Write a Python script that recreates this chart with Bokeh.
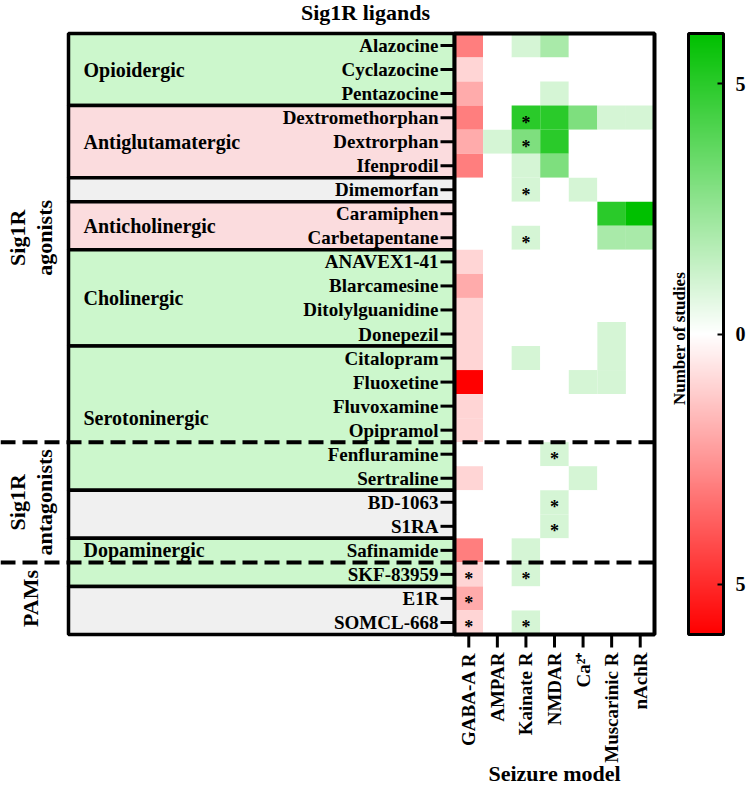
import math
from bokeh.plotting import figure
from bokeh.models import (Range1d, ColumnDataSource, LinearColorMapper, ColorBar,
                          FixedTicker, CustomJSTickFormatter)
from bokeh.core.properties import value
from bokeh.embed import file_html
from bokeh.resources import INLINE

# ---------------- data ----------------
drugs = ["Alazocine", "Cyclazocine", "Pentazocine", "Dextromethorphan", "Dextrorphan",
         "Ifenprodil", "Dimemorfan", "Caramiphen", "Carbetapentane", "ANAVEX1-41",
         "Blarcamesine", "Ditolylguanidine", "Donepezil", "Citalopram", "Fluoxetine",
         "Fluvoxamine", "Opipramol", "Fenfluramine", "Sertraline", "BD-1063", "S1RA",
         "Safinamide", "SKF-83959", "E1R", "SOMCL-668"]
models = ["GABA-A R", "AMPAR", "Kainate R", "NMDAR", "Ca²⁺", "Muscarinic R", "nAchR"]

gaba_a     = [-3, -1, -2, -3, -2, -3, 0, 0, 0, -1, -2, -1, -1, -1, -6, -1, -1, 0, -1, 0, 0, -3, -1, -2, -1]
ampar      = [0, 0, 0, 0, 1, 0, 0, 0, 0, 0, 0, 0, 0, 0, 0, 0, 0, 0, 0, 0, 0, 0, 0, 0, 0]
kainate    = [1, 0, 0, 5, 3, 1, 1, 0, 1, 0, 0, 0, 0, 1, 0, 0, 0, 0, 0, 0, 0, 1, 1, 0, 1]
nmdar      = [2, 0, 1, 5, 5, 3, 0, 0, 0, 0, 0, 0, 0, 0, 0, 0, 0, 1, 0, 1, 1, 0, 0, 0, 0]
calcium    = [0, 0, 0, 3, 0, 0, 1, 0, 0, 0, 0, 0, 0, 0, 1, 0, 0, 0, 1, 0, 0, 0, 0, 0, 0]
muscarinic = [0, 0, 0, 1, 0, 0, 0, 5, 2, 0, 0, 0, 1, 1, 1, 0, 0, 0, 0, 0, 0, 0, 0, 0, 0]
nachr      = [0, 0, 0, 1, 0, 0, 0, 6, 2, 0, 0, 0, 0, 0, 0, 0, 0, 0, 0, 0, 0, 0, 0, 0, 0]

star_drugs = ["Dextromethorphan", "Dextrorphan", "Dimemorfan", "Carbetapentane", "Fenfluramine",
              "BD-1063", "S1RA", "SKF-83959", "SKF-83959", "E1R", "SOMCL-668", "SOMCL-668"]
star_models = ["Kainate R", "Kainate R", "Kainate R", "Kainate R", "NMDAR",
               "NMDAR", "NMDAR", "GABA-A R", "Kainate R", "GABA-A R", "GABA-A R", "Kainate R"]

group_names = ["Opioidergic", "Antiglutamatergic", "", "Anticholinergic", "Cholinergic",
               "Serotoninergic", "", "Dopaminergic", ""]
group_first = ["Alazocine", "Dextromethorphan", "Dimemorfan", "Caramiphen", "ANAVEX1-41",
               "Citalopram", "BD-1063", "Safinamide", "E1R"]
group_last = ["Pentazocine", "Ifenprodil", "Dimemorfan", "Carbetapentane", "Donepezil",
              "Sertraline", "S1RA", "SKF-83959", "SOMCL-668"]
group_kind = ["green", "pink", "grey", "pink", "green", "green", "grey", "green", "grey"]
group_label_drug = [None, None, None, None, None, None, None, "Safinamide", None]

class_lines = [["Sig1R", "agonists"], ["Sig1R", "antagonists"], ["PAMs"]]
class_first = ["Alazocine", "Fenfluramine", "SKF-83959"]
class_last = ["Opipramol", "Safinamide", "SOMCL-668"]

cbar_ticks = [-5, 0, 5]
cbar_low, cbar_high = -6, 6

# ---------------- geometry (canvas pixels -> data) ----------------
W, H = 748, 789
CW = 200 / 7.0          # px per column
RH = 601 / 25.0         # px per row
HX0, HY0 = 454, 33      # heatmap top-left on canvas
HY1 = HY0 + 25 * RH     # heatmap bottom


def xd(cx):
    return (cx - HX0) / CW


def yd(cy):
    return (cy - HY0) / RH


FONT = value("Liberation Serif")
kind_colors = {"green": "#ccf7cc", "pink": "#fbdcde", "grey": "#f0f0f0"}

# palette red -> white -> green
N = 255
palette = []
for i in range(N):
    v = cbar_low + (cbar_high - cbar_low) * i / (N - 1)
    if v < 0:
        t = -v / 6.0
        r, g, b = 255, 255 * (1 - t), 255 * (1 - t)
    else:
        t = v / 6.0
        r, g, b = 255 * (1 - t), 255 - 63 * t, 255 * (1 - t)
    palette.append("#%02x%02x%02x" % (round(r), round(g), round(b)))
mapper = LinearColorMapper(palette=palette, low=cbar_low, high=cbar_high)

p = figure(width=W, height=H, x_range=Range1d(xd(0), xd(W)), y_range=Range1d(yd(H), yd(0)),
           output_backend="svg", toolbar_location=None, x_axis_location=None,
           y_axis_location=None, min_border_left=0, min_border_right=0, min_border_top=0,
           min_border_bottom=0)
p.outline_line_color = None
p.grid.visible = False

row_of = {d: i for i, d in enumerate(drugs)}
col_of = {m: j for j, m in enumerate(models)}


def txt(x, y, t, size, align="center", baseline="middle", angle=0.0, **kw):
    p.text(x=x, y=y, text=t, angle=angle, text_font=FONT, text_font_style="bold",
           text_font_size=size, text_align=align, text_baseline=baseline,
           text_color="black", **kw)


# ---------------- left panel groups ----------------
gsrc = ColumnDataSource(dict(
    left=[xd(68)] * len(group_names),
    right=[0] * len(group_names),
    top=[row_of[a] for a in group_first],
    bottom=[row_of[b] + 1 for b in group_last],
    color=[kind_colors[k] for k in group_kind]))
p.quad(left="left", right="right", top="top", bottom="bottom", fill_color="color",
       line_color="black", line_width=3.5, source=gsrc)

gl_x, gl_y, gl_t = [], [], []
for name, a, b, ld in zip(group_names, group_first, group_last, group_label_drug):
    if not name:
        continue
    gl_t.append(name)
    gl_x.append(xd(83))
    gl_y.append(row_of[ld] + 0.5 if ld else (row_of[a] + row_of[b] + 1) / 2.0)
txt(gl_x, gl_y, gl_t, "20px", align="left")

# ---------------- heatmap cells ----------------
series = [gaba_a, ampar, kainate, nmdar, calcium, muscarinic, nachr]
cx, cy, cv = [], [], []
for j, s in enumerate(series):
    for i, v in enumerate(s):
        cx.append(j + 0.5)
        cy.append(i + 0.5)
        cv.append(v)
csrc = ColumnDataSource(dict(x=cx, y=cy, v=cv))
p.rect(x="x", y="y", width=1, height=1, source=csrc,
       fill_color={"field": "v", "transform": mapper}, line_color=None)

# stars
txt([col_of[m] + 0.5 for m in star_models], [row_of[d] + 0.5 for d in star_drugs],
    ["*"] * len(star_drugs), "18px", y_offset=5)

# heatmap border
p.quad(left=[0], right=[len(models)], top=[0], bottom=[len(drugs)], fill_color=None,
       line_color="black", line_width=4)

# y tick marks + drug labels
ry = [i + 0.5 for i in range(len(drugs))]
p.segment(x0=[xd(HX0 - 14)] * len(drugs), x1=[0] * len(drugs), y0=ry, y1=ry,
          line_color="black", line_width=3)
txt([xd(HX0 - 16)] * len(drugs), ry, drugs, "19px", align="right")

# x tick marks + model labels
rx = [j + 0.5 for j in range(len(models))]
p.segment(x0=rx, x1=rx, y0=[len(drugs)] * len(models), y1=[yd(HY1 + 13)] * len(models),
          line_color="black", line_width=3)
txt(rx, [yd(HY1 + 18)] * len(models), models, "19px", align="right", angle=math.pi / 2)
txt([len(models) / 2.0], [yd(773)], ["Seizure model"], "22px")

# outer class labels
line_gap = 27
for lines, a, b in zip(class_lines, class_first, class_last):
    yc = (row_of[a] + row_of[b] + 1) / 2.0
    n = len(lines)
    xs = [xd(30 + (k - (n - 1) / 2.0) * line_gap) for k in range(n)]
    txt(xs, [yc] * n, lines, "22px", angle=math.pi / 2)

# dashed separators between classes
sep_rows = [row_of[f] for f in class_first[1:]]
p.segment(x0=[xd(0)] * len(sep_rows), x1=[len(models)] * len(sep_rows), y0=sep_rows, y1=sep_rows,
          line_color="black", line_width=4, line_dash="15 7")

# title
txt([xd(365)], [yd(12)], ["Sig1R ligands"], "22px")

# colour bar title
txt([xd(679)], [yd(338)], ["Number of studies"], "17px", angle=math.pi / 2)

# ---------------- colour bar ----------------
cb = ColorBar(color_mapper=mapper, orientation="vertical", location=(688, H - HY1), width=35,
              height=round(HY1 - HY0), padding=0, margin=0, ticker=FixedTicker(ticks=cbar_ticks),
              formatter=CustomJSTickFormatter(code="return Math.abs(tick).toString();"),
              bar_line_color="black", bar_line_width=3, major_tick_line_color="black",
              major_tick_line_width=2, major_tick_in=6, major_tick_out=0, minor_tick_line_color=None,
              label_standoff=12, major_label_text_font="Liberation Serif",
              major_label_text_font_style="bold", major_label_text_font_size="20px",
              major_label_text_color="black", border_line_color=None, background_fill_alpha=0)
p.add_layout(cb, "center")

open("out.html", "w").write(file_html(p, INLINE))
